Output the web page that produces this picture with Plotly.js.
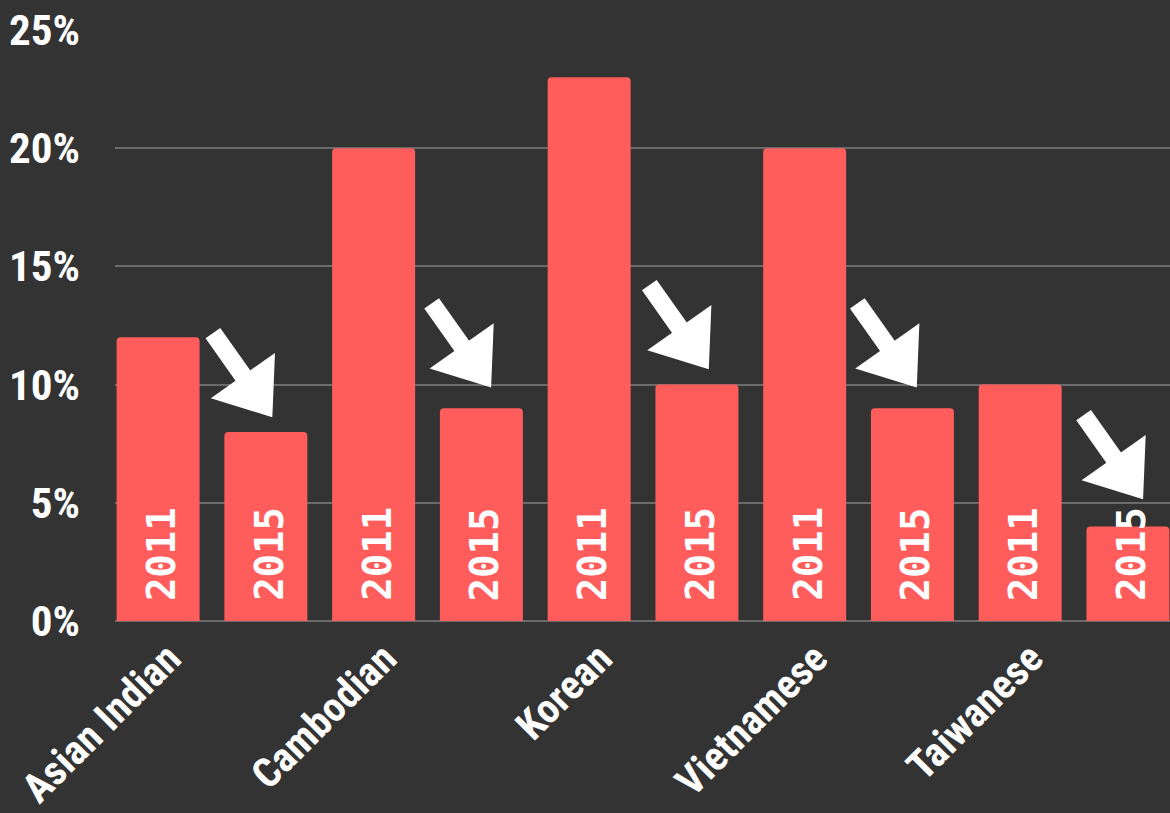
<!DOCTYPE html>
<html><head><meta charset="utf-8">
<script src="https://cdn.plot.ly/plotly-3.0.1.min.js"></script>
<style>html,body{margin:0;padding:0;background:#333333;} #chart{width:1170px;height:813px;}</style>
</head><body><div id="chart"></div>
<script>
// ---- data ----
const groups = ['Asian Indian', 'Cambodian', 'Korean', 'Vietnamese', 'Taiwanese'];
const years = ['2011', '2015'];
const share2011 = [12, 20, 23, 20, 10];
const share2015 = [8, 9, 10, 9, 4];
// arrow tips (x in bar slots, y in %)
const arrowTipX = [1.06, 3.09, 5.11, 7.04, 9.14];
const arrowTipY = [8.62, 9.88, 10.65, 9.88, 5.15];
const yTickVals = [0, 5, 10, 15, 20, 25];
const yTickText = ['0%', '5%', '10%', '15%', '20%', '25%'];

// ---- layout constants ----
const W = 1170, H = 813;
const M = {l: 115, r: 0, t: 30, b: 192};
const xRange = [-0.4, 9.39];
const yRange = [0, 25];
const pxPerX = (W - M.l - M.r) / (xRange[1] - xRange[0]);
const pxPerY = (H - M.t - M.b) / (yRange[1] - yRange[0]);

const RED = '#ff5c5c';
const BG = '#333333';
const GRID = '#6b6b6b';
const sansBold = 'Roboto Condensed, Liberation Sans Narrow, DejaVu Sans Condensed, sans-serif';

const x2011 = groups.map((g, i) => 2 * i);
const x2015 = groups.map((g, i) => 2 * i + 1);
const labelShift = 0.1;  // category label offset in bar slots
const xTickVals = x2011.map(v => v + labelShift);

// arrow geometry (screen px)
const arrowVec = [60.5, 85.6];           // tail -> tip
const arrowLen = Math.hypot(arrowVec[0], arrowVec[1]);
const dir = [arrowVec[0] / arrowLen, arrowVec[1] / arrowLen];
const headR = 34;                         // triangle marker radius
const headAngle = Math.atan2(dir[0], -dir[1]) * 180 / Math.PI;
const headX = arrowTipX.map(v => v - headR * dir[0] / pxPerX);
const headY = arrowTipY.map(v => v + headR * dir[1] / pxPerY);

const traces = [
  {type: 'bar', x: x2011, y: share2011, width: 0.77, name: years[0],
   marker: {color: RED, cornerradius: 4}, hoverinfo: 'y'},
  {type: 'bar', x: x2015, y: share2015, width: 0.77, name: years[1],
   marker: {color: RED, cornerradius: 4}, hoverinfo: 'y'},
  {type: 'scatter', mode: 'markers', x: headX, y: headY, cliponaxis: false,
   marker: {symbol: 'triangle-up', size: headR * 2, color: '#ffffff', angle: headAngle, line: {width: 0}},
   hoverinfo: 'skip'}
];

const annotations = [];
groups.forEach((g, i) => {
  [[x2011[i], years[0]], [x2015[i], years[1]]].forEach(([xv, yr]) => {
    annotations.push({
      x: xv, y: 0, xref: 'x', yref: 'y', text: yr, showarrow: false,
      textangle: -90, xanchor: 'center', yanchor: 'bottom', yshift: 18, xshift: 3,
      font: {family: 'DejaVu Sans Mono, Liberation Mono, monospace', size: 39, color: '#ffffff', weight: 'bold'}
    });
  });
  // arrow shaft
  annotations.push({
    x: headX[i], y: headY[i], xref: 'x', yref: 'y', text: '',
    showarrow: true, arrowhead: 0, arrowwidth: 18, arrowcolor: '#ffffff',
    ax: -(arrowVec[0] - headR * dir[0]), ay: -(arrowVec[1] - headR * dir[1]),
    standoff: 0, startstandoff: 0
  });
});

const layout = {
  width: W, height: H, margin: M,
  paper_bgcolor: BG, plot_bgcolor: BG,
  showlegend: false, barmode: 'overlay',
  xaxis: {
    range: xRange, tickmode: 'array', tickvals: xTickVals, ticktext: groups,
    tickangle: -45, showgrid: false, zeroline: false, showline: false, ticks: '',
    ticklabelstandoff: 4,
    tickfont: {family: sansBold, size: 41, color: '#ffffff', weight: 'bold'}
  },
  yaxis: {
    range: yRange, tickmode: 'array', tickvals: yTickVals, ticktext: yTickText,
    showgrid: true, gridcolor: GRID, gridwidth: 2,
    zeroline: true, zerolinecolor: GRID, zerolinewidth: 2.5,
    ticks: '', ticklabelstandoff: 34,
    tickfont: {family: sansBold, size: 43, color: '#ffffff', weight: 'bold'}
  },
  annotations: annotations
};

Plotly.newPlot('chart', traces, layout, {displayModeBar: false, staticPlot: true});
</script>
</body></html>
